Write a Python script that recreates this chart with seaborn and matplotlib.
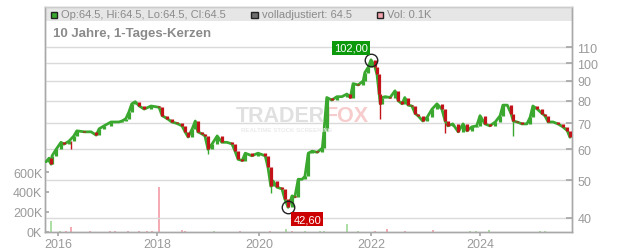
import numpy as np
import matplotlib
matplotlib.use("Agg")
import matplotlib.pyplot as plt
from matplotlib.patches import Rectangle
from matplotlib.ticker import NullLocator, FixedLocator, FixedFormatter
import seaborn as sns

# ---------------- data (decimal years, prices, volume in K) ----------------
dates = [2015.76, 2015.82, 2015.86, 2015.88, 2015.96,
         2016.06, 2016.12, 2016.22, 2016.32, 2016.38, 2016.53, 2016.67, 2016.77, 2016.83, 2016.93,
         2017.07, 2017.23, 2017.29, 2017.37, 2017.43, 2017.49, 2017.56, 2017.64, 2017.74, 2017.88,
         2018.04, 2018.10, 2018.20, 2018.29, 2018.39, 2018.49, 2018.55, 2018.61, 2018.69, 2018.75, 2018.80, 2018.88, 2018.94,
         2019.00, 2019.08, 2019.18, 2019.27, 2019.37, 2019.47, 2019.53, 2019.59, 2019.67, 2019.73, 2019.86, 2019.98,
         2020.11, 2020.16, 2020.21, 2020.25, 2020.32, 2020.41, 2020.46, 2020.52, 2020.59, 2020.64, 2020.70, 2020.77, 2020.82, 2020.88, 2020.95,
         2021.04, 2021.13, 2021.16, 2021.21, 2021.30, 2021.39, 2021.48, 2021.57, 2021.63, 2021.68, 2021.77, 2021.86, 2021.89, 2021.95,
         2022.00, 2022.07, 2022.11, 2022.15, 2022.17, 2022.20, 2022.26, 2022.35, 2022.44, 2022.50, 2022.57, 2022.62, 2022.68, 2022.75, 2022.81, 2022.86, 2022.95,
         2023.03, 2023.12, 2023.21, 2023.30, 2023.36, 2023.41, 2023.50, 2023.60, 2023.69, 2023.76, 2023.85, 2023.94,
         2024.00, 2024.09, 2024.18, 2024.28, 2024.37, 2024.42, 2024.50, 2024.57, 2024.61, 2024.68, 2024.77, 2024.86, 2024.92, 2024.97,
         2025.05, 2025.14, 2025.19, 2025.25, 2025.34, 2025.43, 2025.52, 2025.60, 2025.65]

close = [55.8, 57.0, 55.0, 57.8, 60.0,
         62.6, 61.9, 63.0, 65.0, 67.0, 66.6, 66.6, 65.3, 67.8, 69.0,
         70.6, 70.6, 71.0, 72.0, 74.8, 78.6, 79.6, 77.6, 76.2, 77.6,
         77.0, 73.3, 72.0, 70.6, 70.0, 69.0, 66.6, 64.6, 67.8, 71.0, 66.6, 65.8, 65.0,
         60.0, 62.0, 65.0, 62.6, 62.6, 62.0, 59.4, 56.6, 56.2, 58.7, 57.8, 58.7,
         57.8, 54.0, 48.3, 49.8, 48.0, 47.5, 44.8, 42.6, 45.6, 45.3, 50.3, 50.3, 51.2, 58.7, 59.4,
         59.0, 60.5, 67.0, 81.6, 80.4, 82.0, 82.0, 83.3, 81.6, 88.6, 87.9, 90.0, 94.6, 97.6,
         102.0, 98.0, 93.5, 83.3, 78.6, 81.6, 82.0, 81.6, 84.9, 80.0, 78.6, 81.6, 78.0, 77.6, 74.2, 73.3, 71.0,
         72.6, 76.2, 78.6, 76.2, 71.0, 69.0, 69.8, 66.6, 69.8, 67.0, 68.6, 69.0,
         73.3, 69.8, 69.0, 70.6, 73.3, 78.0, 78.0, 74.2, 71.0, 70.6, 69.8, 69.8, 72.6, 77.6,
         76.2, 74.2, 73.3, 70.6, 70.6, 69.8, 68.6, 67.1, 64.5]

wick_dates = [2016.26, 2019.00, 2020.21, 2022.17, 2023.36, 2024.61]
wick_lows = [60.0, 58.3, 46.5, 72.0, 66.0, 65.0]
wick_highs = [63.0, 62.0, 52.0, 80.0, 70.0, 72.0]
wick_up = [0, 1, 1, 0, 0, 1]

vol_dates = [2015.86, 2016.04, 2016.16, 2016.26, 2016.64, 2017.05, 2017.15, 2017.41, 2017.64, 2017.80,
             2017.90, 2018.04, 2018.49, 2018.55, 2019.12, 2019.63, 2020.20, 2020.48, 2020.59, 2020.82,
             2021.09, 2021.16, 2021.57, 2021.77, 2022.07, 2022.29, 2022.62, 2023.14, 2023.82, 2023.93,
             2024.17, 2025.10, 2025.19]
vol_k = [110, 15, 15, 50, 10, 10, 12, 10, 8, 10,
         10, 450, 20, 10, 8, 8, 10, 30, 10, 10,
         10, 15, 80, 10, 10, 30, 8, 20, 10, 10,
         25, 10, 10]
vol_up = [1, 1, 0, 0, 0, 0, 0, 0, 0, 0,
          0, 0, 0, 0, 1, 0, 0, 1, 0, 1,
          1, 1, 1, 1, 0, 0, 0, 0, 1, 1,
          1, 1, 1]

price_ticks = [40, 50, 60, 70, 80, 90, 100, 110]
vol_ticks = [0, 200, 400, 600]
vol_tick_labels = ["0K", "200K", "400K", "600K"]
year_ticks = [2016, 2018, 2020, 2022, 2024]
year_labels = ["2016", "2018", "2020", "2022", "2024"]

title = "10 Jahre, 1-Tages-Kerzen"
legend_ohlc = "Op:64.5, Hi:64.5, Lo:64.5, Cl:64.5"
legend_adj = "volladjustiert: 64.5"
legend_vol = "Vol: 0.1K"
max_label = "102,00"
min_label = "42,60"

# ---------------- styling ----------------
sns.set_theme(style="white")
plt.rcParams["font.family"] = ["Liberation Sans", "DejaVu Sans"]

GREEN = "#3aa82e"
RED = "#c2121a"
VOL_UP = "#a6dc9c"
VOL_DN = "#f3a3ad"
GRID = "#dadada"
TXT = "#9a9a9a"
SPINE = "#a8a8a8"

W, H = 632, 253
fig = plt.figure(figsize=(W / 100, H / 100), dpi=100)
fig.patch.set_facecolor("white")
L, R, T, B = 45, 572, 8, 233
axv = fig.add_axes([L / W, 1 - B / H, (R - L) / W, (B - T) / H])
axp = axv.twinx()

# trading-day style time axis (non-uniform spacing of years)
T_anchor = np.array([1990, 2016, 2018, 2020, 2022, 2024, 2050], float)
P_anchor = np.array([-26 * 49.5, 0, 99, 201, 313, 422, 422 + 26 * 54.5], float)


def fwd(t):
    return np.interp(t, T_anchor, P_anchor)


def inv(p):
    return np.interp(p, P_anchor, T_anchor)


axv.set_xscale("function", functions=(fwd, inv))
axv.set_xlim(2015.737, 2025.688)

# legend band
axv.add_patch(Rectangle((0, (B - 22) / (B - T)), 1, (22 - T) / (B - T),
                        transform=axv.transAxes, fc="#e6e6e6", ec="none", zorder=0))

# volume
vd = np.array(vol_dates)
vk = np.array(vol_k, float)
vu = np.array(vol_up, bool)
axv.vlines(vd[vu], 0, vk[vu], color=VOL_UP, lw=1.3, zorder=2)
axv.vlines(vd[~vu], 0, vk[~vu], color=VOL_DN, lw=1.3, zorder=2)
axv.set_ylim(0, 2250)
axv.yaxis.set_major_locator(FixedLocator(vol_ticks))
axv.yaxis.set_major_formatter(FixedFormatter(vol_tick_labels))
axv.tick_params(axis="y", which="major", direction="in", length=3, color=SPINE,
                labelcolor=TXT, labelsize=9, pad=2, left=True, labelleft=True)
axv.grid(False)

# price
d = np.array(dates)
c = np.array(close)
o = np.r_[c[0], c[:-1]]
up = c >= o
axp.set_yscale("log")
axp.set_ylim(36.82, 139.4)
sns.lineplot(x=d, y=c, ax=axp, color=GREEN, lw=2.0, legend=False, zorder=3)
wd = np.array(wick_dates)
wl = np.array(wick_lows)
wh = np.array(wick_highs)
wu = np.array(wick_up, bool)
axp.vlines(wd[wu], wl[wu], wh[wu], color=GREEN, lw=1.0, zorder=3)
axp.vlines(wd[~wu], wl[~wu], wh[~wu], color=RED, lw=1.0, zorder=3)
axp.vlines(d[up], o[up], c[up], color=GREEN, lw=2.3, zorder=4)
axp.vlines(d[~up], o[~up], c[~up], color=RED, lw=2.3, zorder=4)

axp.yaxis.set_major_locator(FixedLocator(price_ticks))
axp.yaxis.set_major_formatter(FixedFormatter([str(v) for v in price_ticks]))
axp.yaxis.set_minor_locator(NullLocator())
axp.tick_params(axis="y", which="major", direction="in", length=4, color=SPINE,
                labelcolor=TXT, labelsize=9, pad=4, right=True, labelright=True)
axp.set_xlabel("")
axp.set_ylabel("")
axv.set_xlabel("")
axv.set_ylabel("")

axv.xaxis.set_major_locator(FixedLocator(year_ticks))
axv.xaxis.set_major_formatter(FixedFormatter(year_labels))
axv.xaxis.set_minor_locator(NullLocator())
axv.tick_params(axis="x", which="major", direction="out", length=3, color=SPINE,
                labelcolor=TXT, labelsize=9, pad=1, bottom=True)

axp.grid(True, which="major", axis="both", color=GRID, lw=1.0, zorder=0)
axp.set_axisbelow(True)

for ax in (axv, axp):
    for s in ax.spines.values():
        s.set_color(SPINE)
        s.set_linewidth(1.0)
axv.spines["top"].set_color("#cccccc")
axp.spines["top"].set_color("#cccccc")

# extreme markers & labels
imax = int(np.argmax(c))
imin = int(np.argmin(c))
axp.plot(d[imax], c[imax], "o", mfc="none", mec="#222222", ms=9, mew=1.0, zorder=6)
axp.plot(d[imin], c[imin], "o", mfc="none", mec="#222222", ms=9, mew=1.0, zorder=6)
axp.annotate(max_label, xy=(d[imax], c[imax]), xytext=(-20, 12), textcoords="offset pixels",
             ha="center", va="center", color="white", fontsize=8,
             bbox=dict(boxstyle="square,pad=0.18", fc="#0c9a0c", ec="none"), zorder=7)
axp.annotate(min_label, xy=(d[imin], c[imin]), xytext=(19, -12), textcoords="offset pixels",
             ha="center", va="center", color="white", fontsize=8,
             bbox=dict(boxstyle="square,pad=0.18", fc="#cc0000", ec="none"), zorder=7)

# watermark
wm = fig.text(236 / W, 1 - 116 / H, "TRADER", color="#e0e0e0", fontsize=15.5, fontweight="bold",
              ha="left", va="center", zorder=1)
axp.annotate("FOX", xy=(1.0, 0.5), xycoords=wm, xytext=(0, 0), textcoords="offset pixels",
             ha="left", va="center", color="#f7cccc", fontsize=15.5, fontweight="bold",
             annotation_clip=False, zorder=1)
fig.text(241 / W, 1 - 130 / H, "REALTIME STOCK SCREENING", color="#ebebeb", fontsize=4.4,
         fontweight="bold", ha="left", va="center", zorder=1)


# legend row
def sq(x, fc, ec):
    fig.add_artist(Rectangle((x / W, 1 - 19 / H), 6.5 / W, 6.5 / H, transform=fig.transFigure,
                             fc=fc, ec=ec, lw=1.0, zorder=10))


sq(50.5, "#3aa82e", "#222222")
fig.text(61 / W, 1 - 15.5 / H, legend_ohlc, color="#8a8a8a", fontsize=8, ha="left", va="center")
sq(251, "#6e6e6e", "#222222")
fig.text(262 / W, 1 - 15.5 / H, legend_adj, color="#8a8a8a", fontsize=8, ha="left", va="center")
sq(376.5, "#f3a3ad", "#222222")
fig.text(387 / W, 1 - 15.5 / H, legend_vol, color="#8a8a8a", fontsize=8, ha="left", va="center")

fig.text(53 / W, 1 - 34 / H, title, color="#8a8a8a", fontsize=9.5, fontweight="bold",
         ha="left", va="center")

fig.savefig("out.png", dpi=100)
